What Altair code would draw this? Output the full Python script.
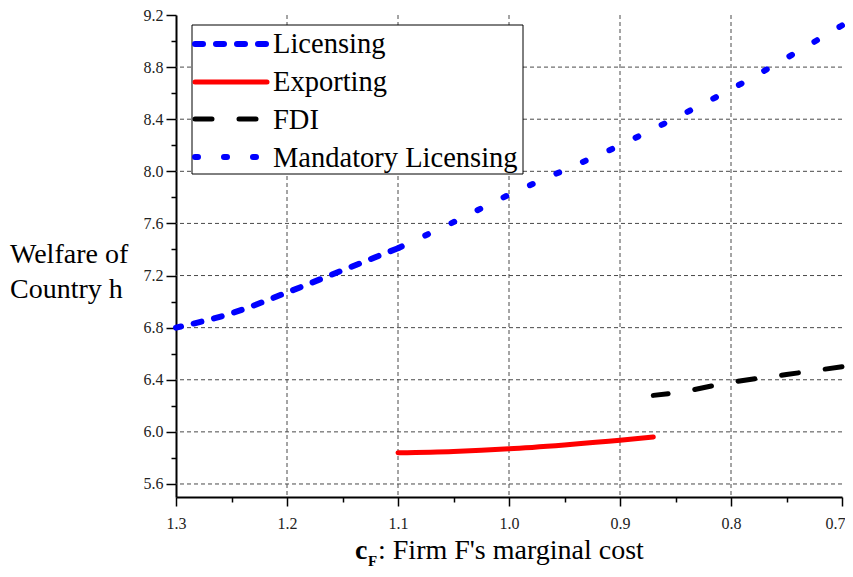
import altair as alt
import pandas as pd

# ---- data ----
cost_lic = [1.3, 1.25, 1.2, 1.15, 1.1]
welfare_lic = [6.80, 6.91, 7.07, 7.24, 7.41]

cost_exp = [1.1, 1.05, 1.0, 0.95, 0.9, 0.87]
welfare_exp = [5.84, 5.85, 5.87, 5.90, 5.935, 5.96]

cost_fdi = [0.87, 0.85, 0.8, 0.75, 0.7]
welfare_fdi = [6.28, 6.30, 6.38, 6.44, 6.50]

cost_ml = [1.1, 1.05, 1.0, 0.95, 0.9, 0.85, 0.8, 0.75, 0.7]
welfare_ml = [7.41, 7.61, 7.82, 8.01, 8.20, 8.41, 8.63, 8.87, 9.12]

series_names = ["Licensing", "Exporting", "FDI", "Mandatory Licensing"]
series_colors = ["#0000ff", "#ff0000", "#000000", "#0000ff"]
series_dash = [[8, 13], [1, 0], [17, 27], [3, 26]]
series_width = [6, 5, 5, 6]

x_ticks = [1.3, 1.25, 1.2, 1.15, 1.1, 1.05, 1.0, 0.95, 0.9, 0.85, 0.8, 0.75, 0.7]
y_ticks = [5.6, 5.8, 6.0, 6.2, 6.4, 6.6, 6.8, 7.0, 7.2, 7.4, 7.6, 7.8, 8.0, 8.2, 8.4, 8.6, 8.8, 9.0, 9.2]
x_grid = [1.2, 1.1, 1.0, 0.9, 0.8]
y_grid = [5.6, 6.0, 6.4, 6.8, 7.2, 7.6, 8.0, 8.4, 8.8]

FONT = "Liberation Serif"

xscale = alt.Scale(domain=[0.7, 1.3], reverse=True, nice=False, zero=False)
yscale = alt.Scale(domain=[5.5, 9.2], nice=False, zero=False)

x_axis = alt.Axis(
    values=x_ticks,
    labelExpr="round(datum.value*20) % 2 == 0 ? format(datum.value, '.1f') : ''",
    tickSize={"condition": {"test": "round(datum.value*20) % 2 == 0", "value": 9}, "value": 5},
    labelOffset={"condition": {"test": "datum.value < 0.71", "value": -7}, "value": 0},
    grid=False, title=None, labelFlush=False, labelOverlap=False,
    labelPadding=9,
)
y_axis = alt.Axis(
    values=y_ticks,
    labelExpr="round(datum.value*5) % 2 == 0 ? format(datum.value, '.1f') : ''",
    tickSize={"condition": {"test": "round(datum.value*5) % 2 == 0", "value": 10}, "value": 5},
    grid=False, title=None, labelFlush=False, labelOverlap=False,
    labelPadding=3,
)

layers = []

# grid
gx = alt.Chart(pd.DataFrame({"c": x_grid})).mark_rule(
    color="#4a4a4a", strokeWidth=1, strokeDash=[4, 3]
).encode(x=alt.X("c:Q", scale=xscale, axis=x_axis))
gy = alt.Chart(pd.DataFrame({"w": y_grid})).mark_rule(
    color="#4a4a4a", strokeWidth=1, strokeDash=[4, 3]
).encode(y=alt.Y("w:Q", scale=yscale, axis=y_axis))
layers += [gx, gy]

series_data = [
    (cost_lic, welfare_lic),
    (cost_exp, welfare_exp),
    (cost_fdi, welfare_fdi),
    (cost_ml, welfare_ml),
]
for (cx, wy), name, col, dash, sw in zip(series_data, series_names, series_colors, series_dash, series_width):
    df = pd.DataFrame({"cost": cx, "welfare": wy, "series": name})
    kw = dict(color=col, strokeWidth=sw, strokeCap="round", interpolate="monotone")
    if dash != [1, 0]:
        kw["strokeDash"] = dash
    layers.append(
        alt.Chart(df).mark_line(**kw).encode(
            x=alt.X("cost:Q", scale=xscale, axis=x_axis),
            y=alt.Y("welfare:Q", scale=yscale, axis=y_axis),
            order="cost:Q",
        )
    )

# legend box
one = pd.DataFrame({"k": [0]})
layers.append(
    alt.Chart(one).mark_rect(fill="white", stroke="black", strokeWidth=1).encode(
        x=alt.value(16), x2=alt.value(347), y=alt.value(10), y2=alt.value(159)
    )
)
leg_sym_y = [29, 67, 104, 142]
leg_sym_x2 = [91, 91, 86, 80]
leg_text_y = [38, 76, 114, 152]
for i, (name, col, dash, sw) in enumerate(zip(series_names, series_colors, series_dash, series_width)):
    kw = dict(color=col, strokeWidth=sw, strokeCap="round")
    if dash != [1, 0]:
        kw["strokeDash"] = dash
    layers.append(
        alt.Chart(one).mark_rule(**kw).encode(
            x=alt.value(19), x2=alt.value(leg_sym_x2[i]), y=alt.value(leg_sym_y[i])
        )
    )
    layers.append(
        alt.Chart(pd.DataFrame({"t": [name]})).mark_text(
            font=FONT, fontSize=28.5, align="left", baseline="alphabetic", color="black"
        ).encode(x=alt.value(97), y=alt.value(leg_text_y[i]), text="t:N")
    )

# y title
for txt, yy in [("Welfare of", 248), ("Country h", 283)]:
    layers.append(
        alt.Chart(pd.DataFrame({"t": [txt]})).mark_text(
            font=FONT, fontSize=28, align="left", baseline="alphabetic", color="black"
        ).encode(x=alt.value(-166), y=alt.value(yy), text="t:N")
    )

# x title with subscript
layers.append(
    alt.Chart(pd.DataFrame({"t": ["c"]})).mark_text(
        font=FONT, fontSize=28, fontWeight="bold", align="left", baseline="alphabetic", color="black"
    ).encode(x=alt.value(179), y=alt.value(544), text="t:N")
)
layers.append(
    alt.Chart(pd.DataFrame({"t": ["F"]})).mark_text(
        font=FONT, fontSize=15, fontWeight="bold", align="left", baseline="alphabetic", color="black"
    ).encode(x=alt.value(192), y=alt.value(551), text="t:N")
)
layers.append(
    alt.Chart(pd.DataFrame({"t": [": Firm F's marginal cost"]})).mark_text(
        font=FONT, fontSize=28, align="left", baseline="alphabetic", color="black"
    ).encode(x=alt.value(202), y=alt.value(544), text="t:N")
)

chart = alt.layer(*layers).properties(
    width=666,
    height=482,
    autosize=alt.AutoSizeParams(type="none"),
    padding={"left": 168, "top": 7, "right": 3, "bottom": 72},
).configure_view(stroke=None).configure_axis(
    domainColor="black", domainWidth=2, tickColor="black", tickWidth=1.5,
    labelFont=FONT, labelFontSize=16, labelColor="#222222",
)

chart.save("out.html", embed_options={"renderer": "svg", "actions": False})
